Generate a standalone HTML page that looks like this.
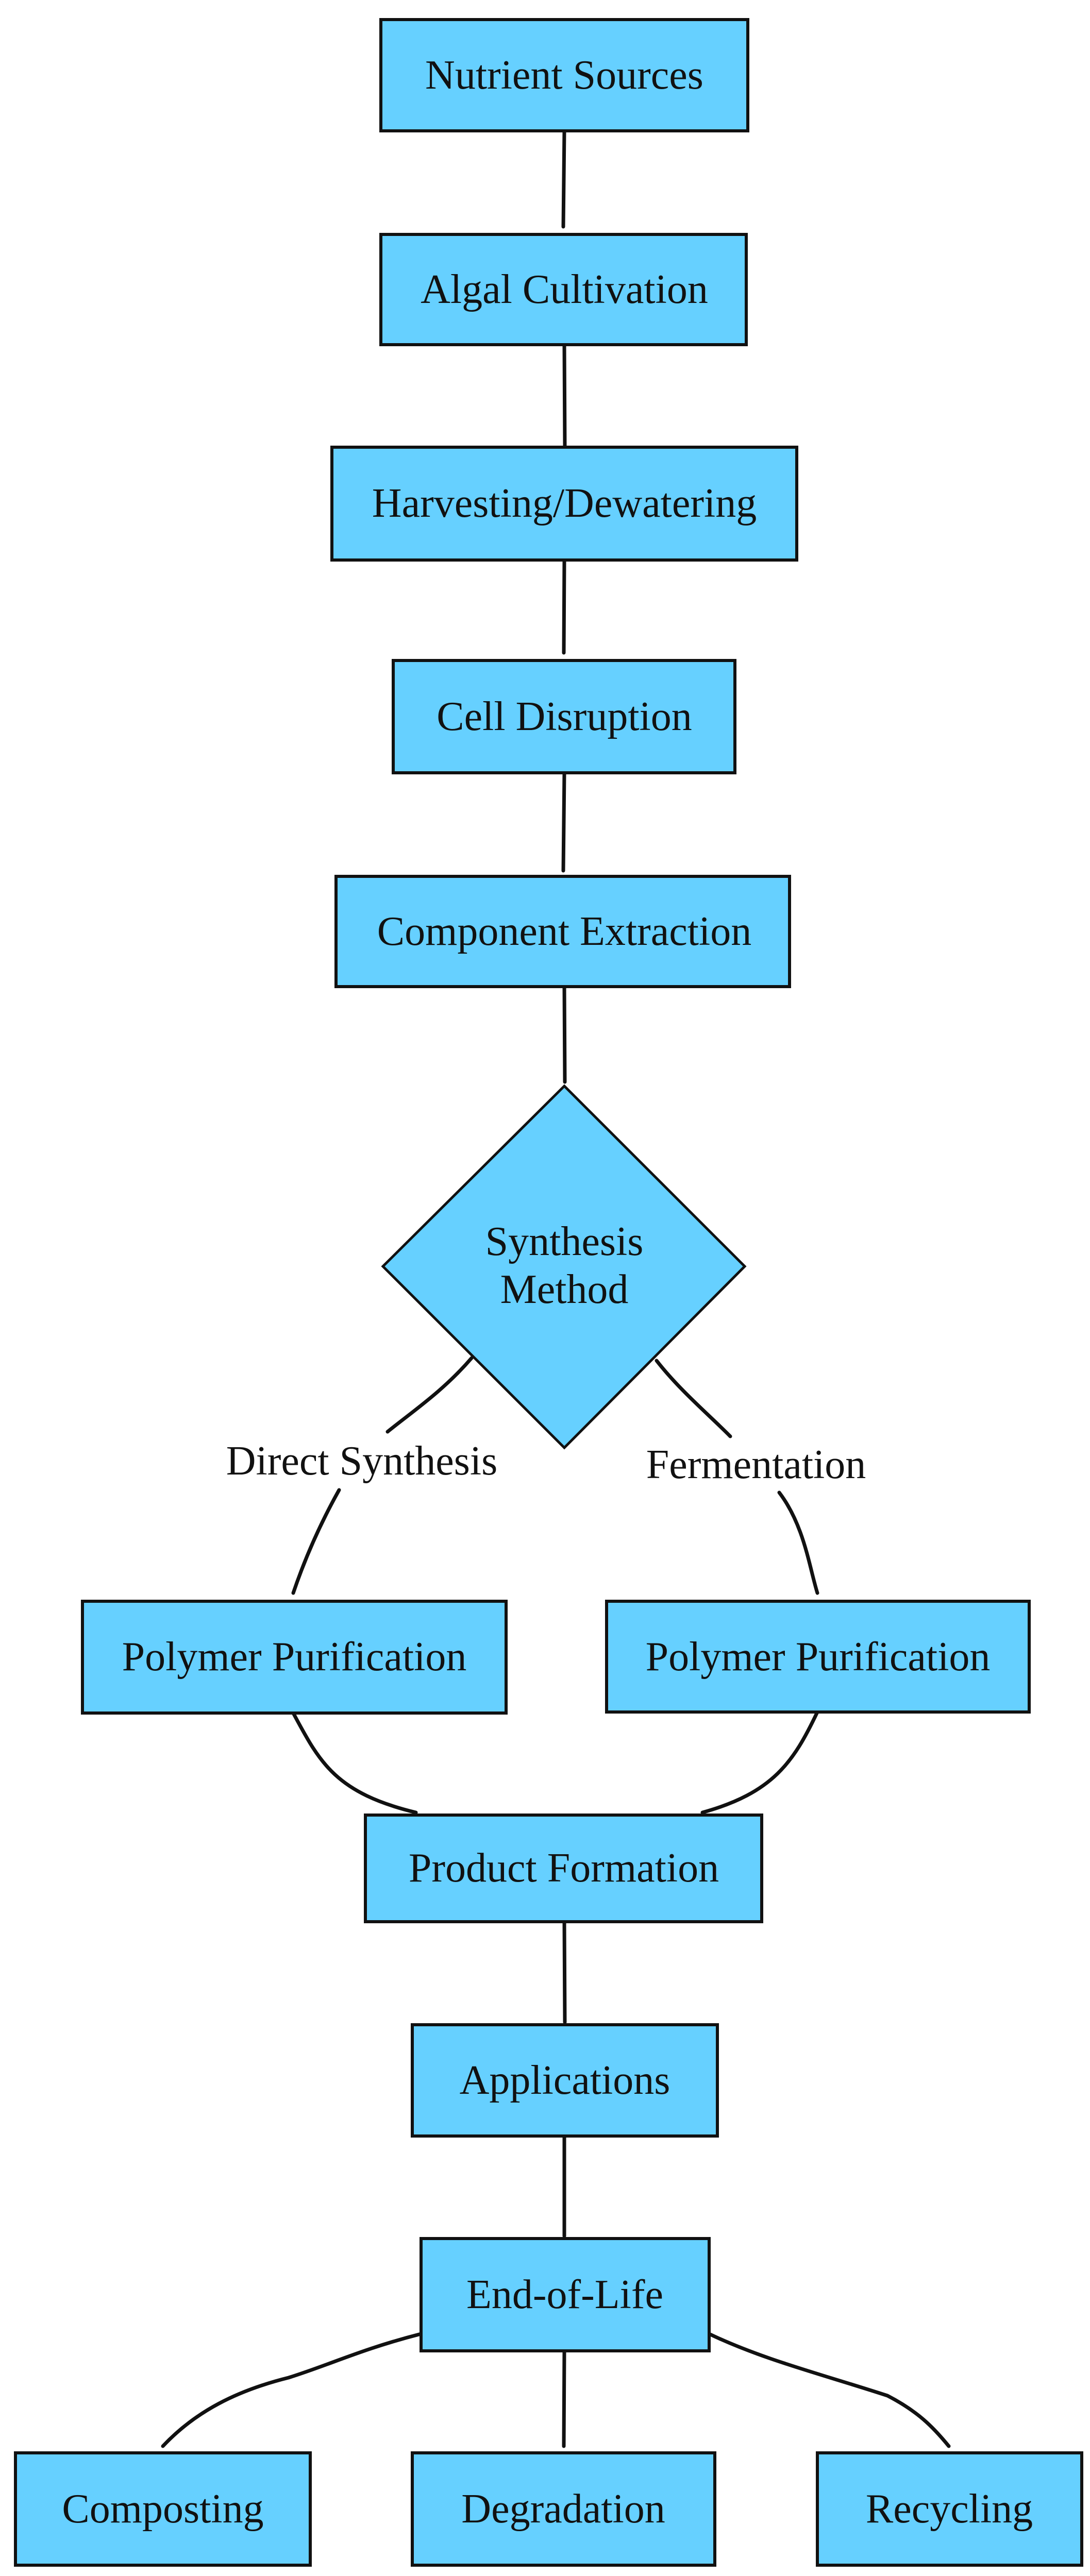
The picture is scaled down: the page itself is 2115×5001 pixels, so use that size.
<!DOCTYPE html>
<html><head><meta charset="utf-8"><style>
html,body{margin:0;padding:0;background:#fff;width:2115px;height:5001px;overflow:hidden;}
svg{display:block;position:absolute;left:0;top:0}
text{font-family:"Liberation Serif",serif;font-size:80px;fill:#111;text-anchor:middle;dominant-baseline:central}
.b{fill:#66d0ff;stroke:#111;stroke-width:6}
.c{fill:none;stroke:#111;stroke-width:7;stroke-linecap:round}
</style></head><body>
<svg width="2115" height="5001" viewBox="0 0 2115 5001" xmlns="http://www.w3.org/2000/svg">
<path class="c" d="M1095 254 L1093 440"/>
<path class="c" d="M1095 669 L1096 868"/>
<path class="c" d="M1095 1087 L1094 1267"/>
<path class="c" d="M1095 1500 L1093 1690"/>
<path class="c" d="M1095 1915 L1096 2100"/>
<path class="c" d="M915 2636 C860 2700 800 2740 752 2779"/>
<path class="c" d="M658 2892 C620 2960 590 3030 569 3092"/>
<path class="c" d="M1274 2641 C1320 2700 1380 2750 1417 2788"/>
<path class="c" d="M1512 2897 C1560 2960 1570 3040 1586 3092"/>
<path class="c" d="M569 3325 C620 3420 650 3480 807 3518"/>
<path class="c" d="M1586 3323 C1540 3420 1500 3480 1363 3518"/>
<path class="c" d="M1095 3730 L1096 3925"/>
<path class="c" d="M1095 4146 L1095 4340"/>
<path class="c" d="M817 4530 C700 4560 640 4590 560 4615 C460 4640 380 4680 316 4748"/>
<path class="c" d="M1376 4530 C1480 4580 1600 4610 1722 4650 C1780 4680 1810 4710 1841 4748"/>
<path class="c" d="M1095 4563 L1094 4748"/>
<rect class="b" x="739" y="38" width="712" height="216"/>
<text x="1095" y="146">Nutrient Sources</text>
<rect class="b" x="739" y="455" width="709" height="214"/>
<text x="1095" y="562">Algal Cultivation</text>
<rect class="b" x="644" y="868" width="902" height="219"/>
<text x="1095" y="977">Harvesting/Dewatering</text>
<rect class="b" x="763" y="1282" width="663" height="218"/>
<text x="1095" y="1391">Cell Disruption</text>
<rect class="b" x="652" y="1701" width="880" height="214"/>
<text x="1095" y="1808">Component Extraction</text>
<polygon class="b" points="1095,2108 1445,2458 1095,2810 743,2458" style="stroke-width:5"/>
<text x="1095" y="2410">Synthesis</text>
<text x="1095" y="2503">Method</text>
<text x="702" y="2836">Direct Synthesis</text>
<text x="1467" y="2843">Fermentation</text>
<rect class="b" x="160" y="3108" width="822" height="217"/>
<text x="571" y="3216">Polymer Purification</text>
<rect class="b" x="1177" y="3108" width="820" height="215"/>
<text x="1587" y="3216">Polymer Purification</text>
<rect class="b" x="709" y="3523" width="769" height="207"/>
<text x="1094" y="3626">Product Formation</text>
<rect class="b" x="800" y="3930" width="592" height="216"/>
<text x="1096" y="4038">Applications</text>
<rect class="b" x="817" y="4345" width="559" height="218"/>
<text x="1096" y="4454">End-of-Life</text>
<rect class="b" x="30" y="4761" width="572" height="218"/>
<text x="316" y="4870">Composting</text>
<rect class="b" x="800" y="4761" width="587" height="218"/>
<text x="1093" y="4870">Degradation</text>
<rect class="b" x="1586" y="4761" width="513" height="218"/>
<text x="1842" y="4870">Recycling</text>
</svg>
</body></html>
